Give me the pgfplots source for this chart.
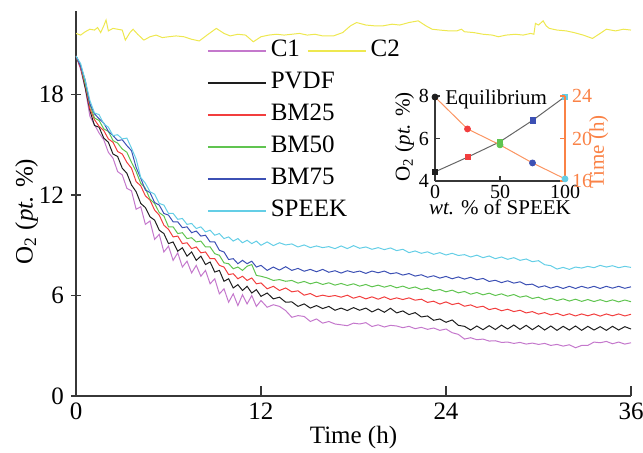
\documentclass[border=0pt]{standalone}
\usepackage{pgfplots}
\pgfplotsset{compat=1.18}
\usepackage{pgfplotstable}
\usepackage{fontspec}
\setmainfont{Liberation Serif}

\definecolor{cA}{RGB}{196,120,204}
\definecolor{cB}{RGB}{238,232,80}
\definecolor{cK}{RGB}{30,30,30}
\definecolor{cR}{RGB}{242,62,62}
\definecolor{cG}{RGB}{96,196,80}
\definecolor{cU}{RGB}{60,80,180}
\definecolor{cC}{RGB}{100,206,230}
\definecolor{cO}{RGB}{250,130,70}
\definecolor{axc}{RGB}{55,55,55}

\pgfplotstableread{
t c1 pvdf bm25 bm50 bm75 speek
0.0 20.30 20.30 20.30 20.30 20.30 20.30
0.3 19.50 19.65 19.60 19.75 19.70 19.85
0.6 18.35 18.40 18.60 18.65 18.85 18.85
0.9 16.70 17.05 17.15 17.40 17.45 17.65
1.2 16.20 16.15 16.50 16.60 16.85 16.90
1.5 15.70 16.05 16.10 16.45 16.55 16.80
1.8 15.30 15.40 15.85 15.95 16.30 16.25
2.1 14.55 15.15 15.35 15.80 15.80 16.05
2.4 14.20 14.45 15.15 15.25 15.55 15.55
2.7 13.40 14.30 14.60 15.10 15.25 15.60
3.0 13.20 13.60 14.45 14.75 15.30 15.35
3.3 12.40 13.30 13.95 14.55 14.95 15.40
3.6 12.25 12.60 13.60 13.95 14.65 14.80
3.9 11.15 12.20 12.80 13.40 13.65 14.15
4.2 11.30 11.50 12.55 12.70 13.00 13.05
4.5 10.25 11.25 11.95 12.40 12.30 12.70
4.8 10.45 10.70 11.70 11.75 12.15 12.20
5.1 9.35 10.50 11.10 11.50 11.55 12.05
5.4 9.65 9.90 10.80 10.95 11.40 11.50
5.7 8.60 9.70 10.20 10.75 10.90 11.40
6.0 8.95 9.10 9.95 10.10 10.80 10.90
6.3 8.10 9.20 9.50 10.10 10.40 10.90
6.6 8.55 8.65 9.55 9.70 10.40 10.55
6.9 7.70 8.85 9.10 9.75 10.05 10.60
7.2 8.05 8.35 9.15 9.40 10.10 10.25
7.5 7.35 8.60 8.80 9.45 9.75 10.30
7.8 7.80 8.10 8.90 9.20 9.85 10.00
8.1 7.15 8.35 8.55 9.25 9.55 10.10
8.4 7.50 7.85 8.60 8.90 9.60 9.80
8.7 6.70 8.00 8.20 8.90 9.20 9.90
9.0 7.00 7.40 8.20 8.50 9.20 9.60
9.3 6.10 7.50 7.80 8.40 8.70 9.70
9.6 6.40 6.85 7.70 7.95 8.60 9.40
9.9 5.60 7.00 7.25 7.90 8.15 9.50
10.2 6.10 6.45 7.30 7.60 8.20 9.25
10.5 5.40 6.65 7.00 7.70 7.90 9.40
10.8 6.05 6.30 7.15 7.50 8.10 9.15
11.1 5.50 6.55 6.90 7.75 7.90 9.30
11.4 6.00 6.15 7.05 7.85 8.05 9.10
11.7 5.35 6.35 6.70 7.20 7.70 9.25
12.0 5.70 5.95 6.75 7.15 7.80 9.00
12.4 5.30 6.15 6.40 7.05 7.50 9.20
12.8 5.45 5.80 6.55 6.90 7.70 8.98
13.2 5.35 5.90 6.30 6.95 7.52 9.15
13.6 5.10 5.60 6.45 6.85 7.72 9.02
14.0 4.70 5.62 6.22 6.90 7.50 9.08
14.4 4.80 5.35 6.28 6.74 7.62 8.90
14.8 4.75 5.50 6.02 6.84 7.45 9.02
15.2 4.45 5.25 6.12 6.70 7.56 8.86
15.6 4.60 5.40 5.93 6.80 7.42 8.96
16.0 4.35 5.22 6.02 6.66 7.56 8.86
16.4 4.45 5.35 5.94 6.76 7.39 8.92
16.8 4.30 5.12 6.00 6.62 7.48 8.80
17.2 4.25 5.25 5.90 6.72 7.34 8.96
17.6 4.20 5.10 6.02 6.60 7.48 8.80
18.0 4.35 5.28 5.84 6.70 7.38 8.98
18.4 4.30 5.12 5.95 6.56 7.46 8.82
18.8 4.38 5.25 5.80 6.66 7.32 8.90
19.2 4.15 5.02 5.92 6.52 7.46 8.76
19.6 4.25 5.20 5.78 6.62 7.36 8.86
20.0 4.12 5.00 5.92 6.50 7.46 8.74
20.4 4.22 5.24 5.76 6.60 7.30 8.84
20.8 4.18 4.96 5.86 6.46 7.36 8.68
21.2 4.08 5.08 5.76 6.56 7.22 8.76
21.6 4.16 4.86 5.86 6.42 7.31 8.56
22.0 4.02 4.98 5.72 6.51 7.16 8.66
22.4 4.10 4.72 5.78 6.36 7.24 8.52
22.8 3.98 4.78 5.59 6.44 7.09 8.61
23.2 4.06 4.52 5.66 6.28 7.18 8.46
23.6 3.92 4.60 5.49 6.36 7.04 8.56
24.0 4.00 4.40 5.62 6.22 7.14 8.42
24.4 3.78 4.54 5.46 6.32 7.00 8.52
24.8 3.68 4.22 5.54 6.16 7.11 8.39
25.2 3.40 4.16 5.36 6.24 6.98 8.44
25.6 3.48 3.94 5.44 6.08 7.09 8.30
26.0 3.36 4.18 5.29 6.18 6.94 8.41
26.4 3.40 3.96 5.36 6.04 7.02 8.26
26.8 3.28 4.20 5.16 6.14 6.84 8.36
27.2 3.30 3.97 5.24 6.00 6.91 8.20
27.6 3.20 4.23 5.09 6.10 6.77 8.30
28.0 3.22 4.00 5.18 5.96 6.88 8.16
28.4 3.14 4.24 5.04 6.06 6.74 8.26
28.8 3.20 3.98 5.12 5.90 6.82 8.10
29.2 3.10 4.22 4.96 5.98 6.64 8.18
29.6 3.16 3.96 5.04 5.82 6.68 8.02
30.0 3.08 4.20 4.89 5.90 6.49 8.08
30.4 3.14 3.94 4.98 5.74 6.58 7.84
30.8 3.02 4.18 4.84 5.84 6.44 7.78
31.2 3.08 3.92 4.94 5.70 6.55 7.58
31.6 2.98 4.16 4.80 5.80 6.42 7.68
32.0 3.06 3.94 4.91 5.67 6.55 7.56
32.4 2.88 4.18 4.78 5.78 6.42 7.70
32.8 3.02 3.92 4.90 5.65 6.55 7.64
33.2 3.02 4.16 4.79 5.76 6.44 7.74
33.6 3.22 3.94 4.90 5.64 6.55 7.66
34.0 3.18 4.14 4.77 5.75 6.42 7.80
34.4 3.26 3.92 4.90 5.63 6.55 7.70
34.8 3.12 4.16 4.79 5.74 6.44 7.78
35.2 3.22 3.94 4.90 5.62 6.55 7.66
35.6 3.10 4.14 4.78 5.73 6.43 7.74
36.0 3.18 4.00 4.88 5.63 6.52 7.68
}\maindata

\pgfplotstableread{
t c2
0.0 21.65
0.3 21.55
0.6 21.75
0.9 21.90
1.2 21.85
1.4 22.00
1.6 21.70
1.8 22.10
1.95 22.45
2.1 21.80
2.4 21.95
2.7 21.90
3.0 21.85
3.2 21.25
3.5 21.70
3.7 21.90
4.0 21.60
4.4 21.25
4.8 21.45
5.2 21.55
5.6 21.40
6.0 21.45
6.5 21.50
7.0 21.45
7.5 21.30
8.0 21.20
8.5 21.55
9.1 21.95
9.6 21.65
10.0 21.50
10.5 21.60
11.0 21.55
11.5 21.15
12.0 21.45
12.5 21.55
13.0 21.60
13.5 21.55
14.0 21.60
14.5 21.65
15.0 21.55
15.5 21.60
16.0 21.50
16.7 21.50
17.3 21.70
17.8 22.10
18.2 22.30
18.8 22.15
19.4 22.10
19.9 22.10
20.5 22.20
21.0 22.15
21.6 22.30
22.2 22.40
22.7 22.10
23.1 21.90
23.6 21.85
24.2 21.80
24.7 21.80
25.0 21.90
25.2 21.75
25.8 21.70
26.4 21.60
27.0 21.55
27.4 21.45
27.9 21.55
28.5 21.60
29.0 21.55
29.5 21.65
29.7 21.60
29.8 22.25
30.0 22.15
30.3 22.40
30.5 22.10
30.7 21.95
31.2 21.85
31.8 21.80
32.3 21.70
32.9 21.55
33.5 21.35
34.0 21.65
34.4 21.90
35.0 21.80
35.5 21.90
36.0 21.85
}\ctwodata

\pgfplotstableread{
w o2 time cls
0 4.43 23.9 a
25 5.12 20.9 b
50 5.85 19.4 c
75 6.85 17.7 d
100 7.97 16.2 e
}\insetdata

\begin{document}
\begin{tikzpicture}
\useasboundingbox (0,0) rectangle (321.5pt,226pt);
\pgfplotsset{
  legimg/.style={legend image code/.code={\draw[##1, line width=0.9pt] (0pt,0pt) -- (29pt,0pt);}},
}
% ---------- main axis ----------
\begin{axis}[
  at={(38pt,28pt)}, anchor=south west,
  scale only axis, width=277.5pt, height=192.6pt,
  xmin=0, xmax=36, ymin=0, ymax=23,
  axis x line*=bottom, axis y line*=left,
  axis line style={axc, line width=1pt},
  xtick={0,12,24,36}, ytick={0,6,12,18},
  xtick align=inside, ytick align=center,
  major tick length=5pt,
  tick style={axc, line width=0.8pt},
  /pgf/number format/assume math mode=true,
  tick label style={font=\fontsize{12.5}{14}\selectfont},
  label style={font=\fontsize{12.5}{14}\selectfont},
  xlabel={Time (h)},
  ylabel={O\textsubscript{2} (\textit{pt.} \%)},
  xlabel style={at={(axis description cs:0.5,-0.108)}, anchor=center},
  ylabel style={at={(axis description cs:-0.089,0.479)}, anchor=center},
  legimg,
  legend cell align=left,
  legend style={draw=none, fill=none, at={(axis description cs:0.236,0.925)}, anchor=north west,
    font=\fontsize{12.5}{14}\selectfont, inner sep=0pt, outer sep=0pt, row sep=5pt,
    nodes={inner xsep=2pt, inner ysep=0pt, text height=8.5pt, text depth=2.5pt}},
  every axis plot/.append style={line width=0.5pt},
]
\addplot[color=cA, no marks] table[x=t, y=c1] {\maindata};
\addlegendentry{C1}
\addplot[color=cK, no marks] table[x=t, y=pvdf] {\maindata};
\addlegendentry{PVDF}
\addplot[color=cR, no marks] table[x=t, y=bm25] {\maindata};
\addlegendentry{BM25}
\addplot[color=cG, no marks] table[x=t, y=bm50] {\maindata};
\addlegendentry{BM50}
\addplot[color=cU, no marks] table[x=t, y=bm75] {\maindata};
\addlegendentry{BM75}
\addplot[color=cC, no marks] table[x=t, y=speek] {\maindata};
\addlegendentry{SPEEK}
\end{axis}
% ---------- C2 overlay axis ----------
\begin{axis}[
  at={(38pt,28pt)}, anchor=south west,
  scale only axis, width=277.5pt, height=192.6pt,
  xmin=0, xmax=36, ymin=0, ymax=23,
  hide axis,
  legimg,
  legend cell align=left,
  legend style={draw=none, fill=none, at={(axis description cs:0.416,0.925)}, anchor=north west,
    font=\fontsize{12.5}{14}\selectfont, inner sep=0pt, outer sep=0pt,
    nodes={inner xsep=2pt, inner ysep=0pt, text height=8.5pt, text depth=2.5pt}},
]
\addplot[color=cB, no marks, line width=0.5pt] table[x=t, y=c2] {\ctwodata};
\addlegendentry{C2}
\end{axis}
% ---------- inset: O2 ----------
\begin{axis}[
  at={(217.5pt,135.5pt)}, anchor=south west,
  scale only axis, width=65pt, height=42.5pt,
  xmin=0, xmax=100, ymin=4, ymax=8,
  axis x line*=bottom, axis y line*=left,
  axis line style={axc, line width=0.8pt},
  xtick={0,50,100}, ytick={4,6,8},
  tick align=inside, major tick length=2.5pt,
  tick style={axc, line width=0.7pt},
  /pgf/number format/assume math mode=true,
  tick label style={font=\fontsize{10}{12}\selectfont},
  label style={font=\fontsize{10.5}{12}\selectfont},
  xticklabel style={yshift=1.5pt},
  yticklabel style={xshift=0.5pt},
  xlabel={\textit{wt.} \% of SPEEK},
  ylabel={O\textsubscript{2} (\textit{pt.} \%)},
  xlabel style={at={(axis description cs:0.5,-0.31)}, anchor=center},
  ylabel style={at={(axis description cs:-0.235,0.52)}, anchor=center},
  scatter/classes={a={mark=square*, cK}, b={mark=square*, cR}, c={mark=square*, cG}, d={mark=square*, cU}, e={mark=square*, cC}},
  clip=false,
]
\addplot[color=gray!80!black, line width=0.5pt, no marks] table[x=w, y=o2] {\insetdata};
\addplot[scatter, only marks, mark size=1.3pt, scatter src=explicit symbolic] table[x=w, y=o2, meta=cls] {\insetdata};
\node[anchor=base west, inner sep=0pt, font=\fontsize{10.5}{12}\selectfont] at (rel axis cs:0.077,0.9) {Equilibrium};
\end{axis}
% ---------- inset: Time ----------
\begin{axis}[
  at={(217.5pt,135.5pt)}, anchor=south west,
  scale only axis, width=65pt, height=42.5pt,
  xmin=0, xmax=100, ymin=16, ymax=24,
  axis x line=none, axis y line*=right,
  axis line style={cO, line width=0.8pt},
  ytick={16,20,24},
  tick align=inside, major tick length=2.5pt,
  tick style={cO, line width=0.7pt},
  /pgf/number format/assume math mode=true,
  tick label style={font=\fontsize{10}{12}\selectfont, cO},
  ylabel={Time (h)},
  ylabel style={font=\fontsize{10.5}{12}\selectfont, cO, at={(axis description cs:1.26,0.34)}, anchor=center},
  scatter/classes={a={mark=*, cK}, b={mark=*, cR}, c={mark=*, cG}, d={mark=*, cU}, e={mark=*, cC}},
  clip=false,
]
\addplot[color=cO!85, line width=0.5pt, no marks] table[x=w, y=time] {\insetdata};
\addplot[scatter, only marks, mark size=1.5pt, scatter src=explicit symbolic] table[x=w, y=time, meta=cls] {\insetdata};
\end{axis}
\end{tikzpicture}
\end{document}
